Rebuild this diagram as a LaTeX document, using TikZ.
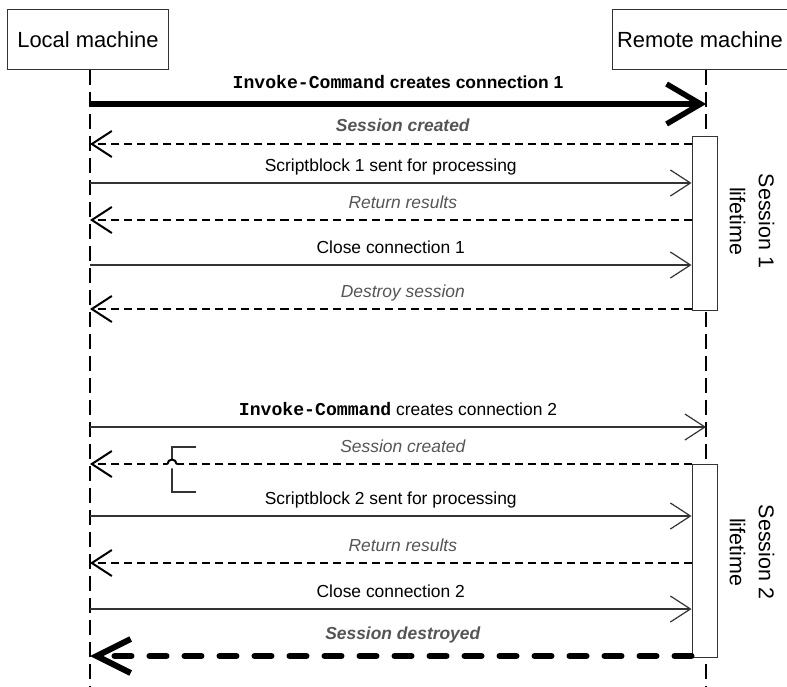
\documentclass[tikz,border=0pt]{standalone}
\usepackage{fontspec}
\setmainfont{Liberation Sans}
\setmonofont{Liberation Mono}
\usetikzlibrary{arrows.meta,positioning,calc}
\definecolor{cLine}{HTML}{333333}
\definecolor{cNote}{HTML}{555555}
\newcommand{\cmdname}[1]{{\fontsize{18.2}{20}\selectfont\texttt{\textbf{#1}}}}
\tikzset{
  actor/.style  ={draw=cLine,fill=white,minimum height=60bp,inner sep=0pt,
                  line width=1bp,font=\fontsize{22}{26}\selectfont},
  life/.style   ={draw=black,line width=2.8bp,dash pattern=on 15bp off 7bp},
  act/.style    ={draw=cLine,fill=white,minimum width=25bp,inner sep=0pt,line width=1bp},
  call/.style   ={draw=cLine,line width=1.2bp,-{Straight Barb[length=20bp,width=26bp]}},
  ret/.style    ={call,draw=black,line width=2bp,dash pattern=on 8bp off 5bp},
  bigcall/.style={draw=black,line width=5.5bp,-{Straight Barb[length=34bp,width=40bp]}},
  bigret/.style ={draw=black,line width=6bp,line cap=round,dash pattern=on 17bp off 18bp,
                  -{Straight Barb[length=34bp,width=34bp]}},
  msg/.style    ={anchor=base,yshift=12bp,inner sep=0pt,font=\fontsize{17.5}{20}\selectfont},
  note/.style   ={msg,text=cNote,font=\fontsize{17.5}{20}\selectfont\itshape},
  lifespan/.style={rotate=-90,align=center,font=\fontsize{21.5}{29}\selectfont},
}

\begin{document}
\begin{tikzpicture}[x=1bp,y=-1bp]
\useasboundingbox (0,0) rectangle (787,687);

\node[actor,minimum width=160bp] (local)  at (88,40)  {Local machine};
\node[actor,minimum width=176bp] (remote) at (700,40) {Remote machine};

% lifelines
\coordinate (ltop) at (90,70);  \coordinate (lbot) at (90,687);
\coordinate (rtop) at (706,70); \coordinate (rbot) at (706,687);
\draw[life] (ltop) -- (lbot);
\draw[life] (rtop) -- (rbot);

\node[act,minimum height=173bp] (act1) at (704.5,223.5) {};
\node[act,minimum height=193bp] (act2) at (704.5,560.5) {};
\node[lifespan] (span1) at (752,221) {Session 1\\lifetime};
\node[lifespan] (span2) at (752,552) {Session 2\\lifetime};

% message rows on the local lifeline
\coordinate (m1)  at (90,104);
\coordinate (m2)  at (90,144);
\coordinate (m3)  at (90,183);
\coordinate (m4)  at (90,220);
\coordinate (m5)  at (90,265);
\coordinate (m6)  at (90,309);
\coordinate (m7)  at (90,427);
\coordinate (m8)  at (90,464);
\coordinate (m9)  at (90,516);
\coordinate (m10) at (90,563);
\coordinate (m11) at (90,609);
\coordinate (m12) at (90,656);

% first session
\draw[bigcall] (m1) -- node[msg,yshift=3bp]
  {\cmdname{Invoke-Command} \textbf{creates connection 1}} (m1 -| rtop);
\draw[ret] (m2 -| act1.west) -- node[note,pos=.48] {\textbf{Session created}} (m2);
\draw[call] (m3) -- node[msg] {Scriptblock 1 sent for processing} (m3 -| act1.west);
\draw[ret] (m4 -| act1.west) -- node[note,pos=.48] {Return results} (m4);
\draw[call] (m5) -- node[msg] {Close connection 1} (m5 -| act1.west);
\draw[ret] (m6 -| act1.west) -- node[note,pos=.48] {Destroy session} (m6);

% second session
\draw[call] (m7) -- node[msg]
  {\cmdname{Invoke-Command} creates connection 2} (m7 -| rtop);
\draw[cLine,line width=1.2bp] (196,447) -- (172,447) -- (172,492) -- (196,492);
\draw[ret] (m8 -| act2.west) -- node[note,pos=.48] {Session created} (m8);
\fill[white] (172,464) circle (4.5);
\draw[line width=2bp] (167.5,464) arc[start angle=180,end angle=360,radius=4.5];
\draw[call] (m9) -- node[msg] {Scriptblock 2 sent for processing} (m9 -| act2.west);
\draw[ret] (m10 -| act2.west) -- node[note,pos=.48] {Return results} (m10);
\draw[call] (m11) -- node[msg] {Close connection 2} (m11 -| act2.west);
\draw[bigret] (m12 -| act2.west) -- node[note,pos=.48,yshift=5bp]
  {\textbf{Session destroyed}} (m12);
\end{tikzpicture}
\end{document}
